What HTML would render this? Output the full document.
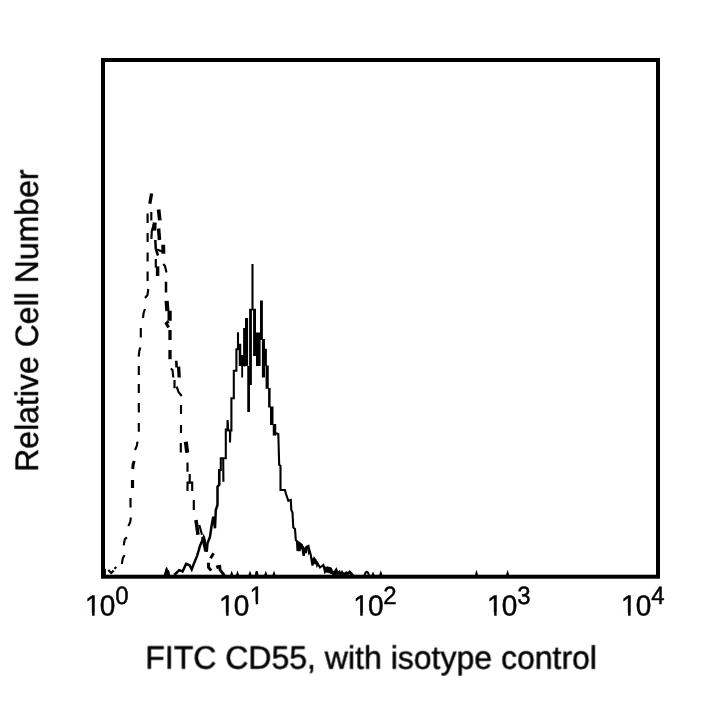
<!DOCTYPE html>
<html>
<head>
<meta charset="utf-8">
<title>FITC CD55 histogram</title>
<style>
html,body{margin:0;padding:0;background:#fff;}
body{width:720px;height:720px;overflow:hidden;position:relative;}
svg{position:absolute;left:0;top:0;display:block;}
text{font-family:"Liberation Sans",sans-serif;text-rendering:geometricPrecision;fill:#000;stroke:#000;stroke-width:0.45px;}
#txt{opacity:0.999;}
.tk{font-size:28px;}
.sp{font-size:24px;}
.lb{font-size:32px;}
.c{fill:none;stroke:#000;stroke-width:2.1;stroke-linejoin:miter;stroke-linecap:butt;}
.d{fill:none;stroke:#000;stroke-width:2.15;stroke-linecap:butt;stroke-linejoin:miter;}
.dt{fill:none;stroke:#000;stroke-width:3.8;stroke-linecap:butt;stroke-linejoin:miter;}
</style>
</head>
<body>
<svg width="720" height="720" viewBox="0 0 720 720">
<rect x="0" y="0" width="720" height="720" fill="#fff"/>
<!-- frame -->
<rect x="103" y="60" width="555" height="516.7" fill="none" stroke="#000" stroke-width="4"/>

<!-- tick labels -->
<g id="txt">
<text class="tk" transform="translate(85.10,615.55) rotate(0.03) scale(1,1.04)">1</text><text class="tk" transform="translate(99.87,615.55) rotate(0.03) scale(1,1.04)">0</text><text class="sp" transform="translate(115.2,604.0) rotate(0.03) scale(1,1.04)">0</text>
<text class="tk" transform="translate(219.10,615.55) rotate(0.03) scale(1,1.04)">1</text><text class="tk" transform="translate(233.87,615.55) rotate(0.03) scale(1,1.04)">0</text><text class="sp" transform="translate(249.8,604.0) rotate(0.03) scale(1,1.04)">1</text>
<text class="tk" transform="translate(353.20,615.55) rotate(0.03) scale(1,1.04)">1</text><text class="tk" transform="translate(367.97,615.55) rotate(0.03) scale(1,1.04)">0</text><text class="sp" transform="translate(383.2,604.0) rotate(0.03) scale(1,1.04)">2</text>
<text class="tk" transform="translate(487.10,615.55) rotate(0.03) scale(1,1.04)">1</text><text class="tk" transform="translate(501.87,615.55) rotate(0.03) scale(1,1.04)">0</text><text class="sp" transform="translate(517.2,604.0) rotate(0.03) scale(1,1.04)">3</text>
<text class="tk" transform="translate(621.10,615.55) rotate(0.03) scale(1,1.04)">1</text><text class="tk" transform="translate(635.87,615.55) rotate(0.03) scale(1,1.04)">0</text><text class="sp" transform="translate(651.2,604.0) rotate(0.03) scale(1,1.04)">4</text>
<!-- axis labels -->
<text class="lb" transform="translate(145.3,669) rotate(0.02) scale(1,1.012)">FITC CD55, with isotype control</text>
<text class="lb" transform="translate(38.3,471.8) rotate(-90.02) scale(1,1.012)">Relative Cell Number</text>
</g>

<!-- hide the foot serif of Liberation "1" so it reads like the reference glyph -->
<g fill="#fff">
<rect x="86.30" y="612.6" width="5.84" height="5.5"/><rect x="94.62" y="612.6" width="5.6" height="5.5"/>
<rect x="220.30" y="612.6" width="5.84" height="5.5"/><rect x="228.62" y="612.6" width="5.6" height="5.5"/>
<rect x="354.40" y="612.6" width="5.84" height="5.5"/><rect x="362.72" y="612.6" width="5.6" height="5.5"/>
<rect x="488.30" y="612.6" width="5.84" height="5.5"/><rect x="496.62" y="612.6" width="5.6" height="5.5"/>
<rect x="622.30" y="612.6" width="5.84" height="5.5"/><rect x="630.62" y="612.6" width="5.6" height="5.5"/>
<rect x="250.60" y="601.6" width="5.14" height="4.6"/><rect x="258.06" y="601.6" width="5" height="4.6"/>
</g>

<!-- solid curve -->
<path class="c" style="stroke-width:2.5" d="M174.3 575 L179.2 570.1 L182.6 571.5 L186.1 563.9 L189.6 565.3 L191.7 569.4 L193.8 563.9 L197.2 555.6 L200 545.8 L203.5 537.5
L206.7 551.7 L207.5 543.3 L210 536.7 L211.7 525 L213.3 516.7 L215 528.3 L215.8 510 L217.5 505 L217.5 486.7 L219.2 485 L219.2 470"/>
<path class="c" d="M219.2 485 L219.2 470 L220.8 470 L220.8 458.3 L225.8 458.3 L225.8 429.5 L227.4 429.5 L227.6 420 L228.2 430.5 L230 430.5 L230 442.5 L230.3 430.5 L231.4 430.5 L231.4 398.2 L233.8 398.2 L233.8 370.8 L236.4 370.8 L236.4 349.3 L238 349.3 L238 332.5
M274.5 434.5 L276.7 433.3 L278.3 434 L279.2 465 L280.5 465.8 L280.5 490 L285 490 L285.8 493.3
L288.3 500.8 L290.8 500 L291.3 510 L292.5 512.5 L293.3 527.5 L295 529 L295.8 540 L298.3 542.5 L298.3 550.8 L300 543.3 L302 545 L303.5 555.8 L305.8 547.5 L308.3 546
L310.8 555 L312.5 565 L314.2 558.3 L316.7 561.7 L320 567.5 L323.3 565 L325 571.7 L327.5 567.5 L330.8 568.3 L333.3 574 L335.8 570 L339.2 573.3 L341.7 572.5 L345 574 L350 571.7 L353.3 575.5
M297 542 L297.5 551 L298.8 544 L299.6 551 L300.6 543.5 L301.5 549
M303 546 L303.8 555.8 L305 548 L306 553 L307 546.5 L308.5 546 L309 552 L310 550
M311 557 L312.5 565.5 L313.5 558.5 L314.5 564 L315.5 559.5 L317 565 L318 562.5
M324 566 L325 572 L326 567 L327.2 572.5 L328.3 567.5 L329.5 573 L330.5 568.5 L331.5 574
M333 575 L334 571 L335 575 L336.5 570.5 L337.5 574.5 L339.5 572 L340.5 575 L342 572 L343.5 575 L346 572.5 L347 575 L349.5 572 L351 575
M223.2 458.3 L223.4 481.7
M364.5 575.5 L365.5 572.6 L366.7 571.7 L368 572.6 L369 575.5 M372.3 575.5 L373 574 L373.7 575.5 M380 575.5 L380.8 573.3 L381.6 575.5
M475.8 575.5 L476.5 573.3 L477.2 575.5 M506.9 575.5 L507.6 573.3 L508.3 575.5
M231 575.5 L231.7 573.6 L232.4 575.5 M236.8 575.5 L237.5 573.6 L238.2 575.5 M249.3 575.5 L250 573.6 L250.7 575.5 M255.8 575.5 L256.7 571.3 L257.6 575.5 M265.1 575.5 L265.8 573.6 L266.5 575.5 M273.3 575.5 L274 573.6 L274.7 575.5"/>
<path fill="#000" d="M163.6 575.5 L165.3 569.6 L166.3 566.7 L167.3 567.8 L168 570 L169.2 570.6 L170.2 575.5Z"/>
<path fill="#000" stroke="none" d="M237.10 332.50H239.00V349.50H237.10Z M238.75 343.75H241.25V366.00H238.75Z M239.40 355.00H241.90V366.00H239.40Z M241.25 355.00H243.10V377.50H241.25Z M243.10 328.00H248.10V366.00H243.10Z M245.00 318.00H248.10V329.00H245.00Z M243.75 355.00H245.60V366.50H243.75Z M249.10 308.75H251.90V385.00H249.10Z M247.25 366.00H251.90V381.00H247.25Z M247.25 381.00H250.00V412.00H247.25Z M251.45 264.00H253.55V310.00H251.45Z M253.10 308.75H256.00V353.75H253.10Z M256.00 332.50H260.60V366.00H256.00Z M253.10 342.50H257.50V356.00H253.10Z M260.00 300.60H262.90V340.00H260.00Z M261.90 339.00H265.00V377.50H261.90Z M264.40 348.75H266.90V366.00H264.40Z M265.60 365.60H268.75V388.75H265.60Z M268.10 388.00H270.60V407.50H268.10Z M270.00 406.50H273.50V425.00H270.00Z M272.75 424.00H276.25V435.60H272.75Z M249.10 308.75H256.00V310.60H249.10Z "/>

<!-- dashed curve -->
<g id="dashed">
<path class="d" d="M108.3 569.9 L111.3 573 L113.6 570.6 M114.4 568.8 L116.3 567
M121.8 564 L122.9 557.8 L124.7 555.2
M123.7 545.4 L124.8 539.3 L126.9 537.4
M128.3 526 L130.3 522 L130.8 517.5
M130.5 507.5 L130.5 498
M135 450 L136.8 446 L137.5 441.7
M138.8 431.7 L138.8 423
M138.8 412.5 L138.8 403
M138.8 393 L138.8 384
M138.8 375 L138.8 366
M138.7 356.7 L139.3 351 L140.3 347.5
M140.8 337.5 L140.8 328
M143 318 L143.6 313 L145 309
M145 298 L147.5 295 L148.3 289
M147.6 281 L147.6 271.5
M147.6 261.4 L147.6 252.4
M147.6 242 L147.6 233
M147.6 223 L147.6 213.5
M151.3 220.4 L151.3 212
M151.4 239 L151.8 231
M155.8 259 L155.8 267.5
M163.3 264 L165 266 L166.5 272.5
M170.8 368.5 L172.5 370 L173.3 377.5
M174.5 380 L174.5 388.3
M176.7 386.7 L178.5 392 L181.7 396
M181 405 L181 414
M181 425 L181 433
M180.8 443 L180.8 452.5
M187.5 462.5 L187.5 471.7
M189.7 474 L189.7 482.5 M187.5 491 L187.5 482.6 L192.2 482.6 L192.2 491
M193.8 500 L193.8 510
M199.3 525 L202 534.7"/>
<path class="d" style="stroke-width:3.2" d="M132.5 488 L132.5 480"/>
<path class="d" style="stroke-width:3.0" d="M132.7 469 L133.2 464 L134.2 461"/>
<path class="d" style="stroke-width:3.3" d="M149.8 203.7 L151.6 193.5"/>
<path class="d" style="stroke-width:3.7" d="M158.6 209.5 L159.8 220.4"/>
<path class="d" style="stroke-width:4.0" d="M154.2 230.5 L154.8 222.5"/>
<path class="d" style="stroke-width:2.6" d="M152 231 L154 224"/>
<path class="d" style="stroke-width:3.5" d="M158.6 228.5 L159.5 240"/>
<path class="d" style="stroke-width:2.5" d="M155.3 240 L155.8 249 L158 255.5"/>
<path class="d" style="stroke-width:2.2" d="M157 249.5 L162 251.5"/>
<path class="d" style="stroke-width:3.9" d="M163.2 244.7 L163.4 253.75"/>
<path class="d" style="stroke-width:3.5" d="M157.6 266.3 L157.6 276"/>
<path class="d" style="stroke-width:2.5" d="M166 281.7 L166 292.5"/>
<path class="d" style="stroke-width:4.2" d="M166.6 300.8 L167.4 311 M169.6 310.8 L169.6 320.8"/>
<path class="d" style="stroke-width:3.0" d="M168.5 321.3 L166.3 323.5 L168.6 327.5"/>
<path class="d" style="stroke-width:3.3" d="M170 330 L170 340"/>
<path class="d" style="stroke-width:3.3" d="M170 350 L170 359.2"/>
<path class="d" style="stroke-width:2.6" d="M176.3 360.8 L176.6 367.5"/>
<path class="d" style="stroke-width:3.3" d="M178.6 366.7 L179.2 377.5"/>
<path class="d" style="stroke-width:4.0" d="M185.8 441.7 L187.2 452.7"/>
<path class="d" style="stroke-width:3.5" d="M196 520 L198 534.7"/>
<path class="d" style="stroke-width:4.0" d="M203 536.8 L206.2 551.4"/>
<path class="d" style="stroke-width:2.8" d="M213.6 553.2 L210.6 558.2"/>
<path class="d" style="stroke-width:3.0" d="M208.4 562.8 L208.6 567.5 L211.2 570.6"/>
<path class="d" style="stroke-width:3.4" d="M216.3 567.6 L219 566.4"/>
<path class="d" style="stroke-width:3.0" d="M219.6 564.8 L220 569.8 L224.4 575.5"/>
<rect x="104.5" y="568.8" width="1.4" height="7" fill="#000"/>
</g>
</svg>
</body>
</html>
